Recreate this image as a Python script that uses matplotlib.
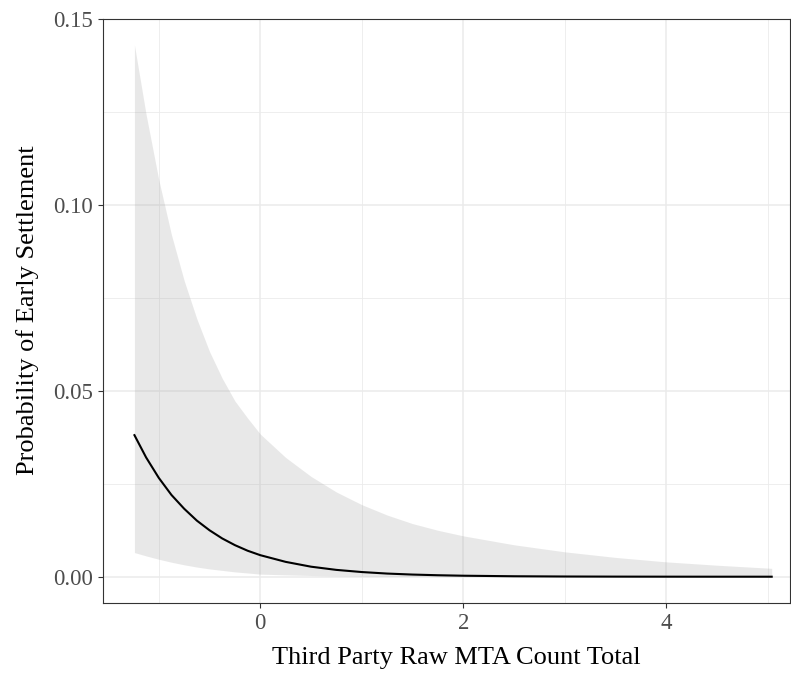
import numpy as np
import matplotlib.pyplot as plt

# predicted probability with 95% band, read along the x range
mta_count = [-1.24, -1.125, -1.0, -0.875, -0.75, -0.625, -0.5, -0.375, -0.25, -0.125,
             0.0, 0.25, 0.5, 0.75, 1.0, 1.25, 1.5, 1.75, 2.0, 2.5, 3.0, 3.5, 4.0, 4.5, 5.04]
prob_fit = [0.0381, 0.0321, 0.0266, 0.0220, 0.0183, 0.0151, 0.0125, 0.0103, 0.0085, 0.0070,
            0.0058, 0.0040, 0.0027, 0.00184, 0.00126, 0.00085, 0.00058, 0.0004, 0.00027, 0.000125,
            0.000058, 0.000027, 0.000012, 0.000006, 0.0000025]
prob_lo = [0.0065, 0.0056, 0.0047, 0.0039, 0.0032, 0.0026, 0.0021, 0.0017, 0.0013, 0.0010,
           0.0007, 0.0005, 0.00033, 0.00022, 0.00015, 0.0001, 0.00007, 0.00005, 0.00003, 0.00001,
           0.0, 0.0, 0.0, 0.0, 0.0]
prob_hi = [0.1431, 0.1244, 0.1068, 0.0920, 0.0797, 0.0694, 0.0606, 0.0534, 0.0473, 0.0427,
           0.0384, 0.0321, 0.0270, 0.0228, 0.0194, 0.0166, 0.0143, 0.0125, 0.0110, 0.0086,
           0.0067, 0.0052, 0.0040, 0.0031, 0.00226]

x_ticks = [0, 2, 4]
y_ticks = [0.00, 0.05, 0.10, 0.15]
y_labels = ['0.00', '0.05', '0.10', '0.15']

plt.rcParams['font.family'] = ['Liberation Serif', 'DejaVu Serif']

fig = plt.figure(figsize=(7.91, 6.74), dpi=100)
ax = fig.add_axes([0.1302, 0.1058, 0.8685, 0.8665])

ax.fill_between(mta_count, prob_lo, prob_hi, color='#999999', alpha=0.22, linewidth=0, zorder=2)
ax.plot(mta_count, prob_fit, color='black', lw=1.5, zorder=3)

ax.set_xlim(-1.55, 5.22)
ax.set_ylim(-0.00699, 0.1502)
ax.set_xticks(x_ticks)
ax.set_xticklabels([str(t) for t in x_ticks])
ax.set_yticks(y_ticks)
ax.set_yticklabels(y_labels)
ax.set_xticks([-1, 1, 3, 5], minor=True)
ax.set_yticks([0.025, 0.075, 0.125], minor=True)

ax.grid(which='major', color='#EBEBEB', lw=1.1, zorder=0)
ax.grid(which='minor', color='#EBEBEB', lw=0.6, zorder=0)
ax.set_axisbelow(True)

for s in ax.spines.values():
    s.set_color('#333333')
    s.set_linewidth(0.8)

ax.tick_params(which='major', length=3.6, width=0.8, color='#333333',
               labelcolor='#4D4D4D', labelsize=16.5, pad=3.5)
ax.tick_params(which='minor', length=0)

ax.set_xlabel('Third Party Raw MTA Count Total', fontsize=19, labelpad=10)
ax.set_ylabel('Probability of Early Settlement', fontsize=19, labelpad=10)
ax.xaxis.label.set_x(0.514)

fig.savefig('out.png', dpi=100)
